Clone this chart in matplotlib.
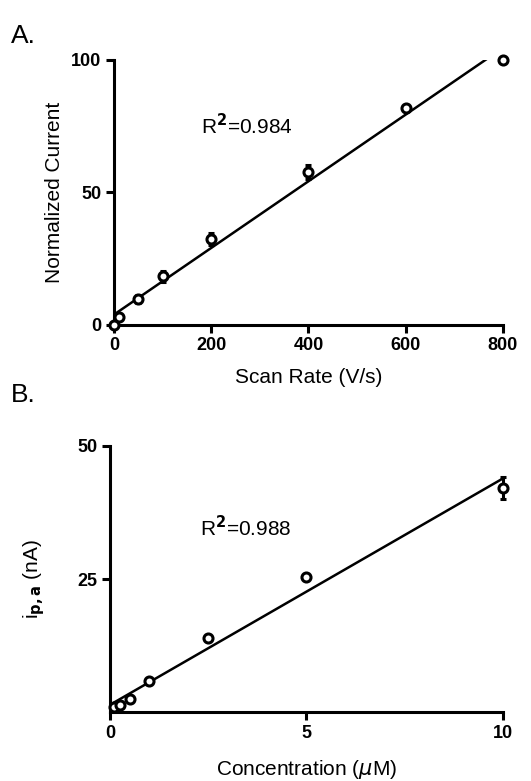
import numpy as np
import matplotlib.pyplot as plt

plt.rcParams['font.family'] = ['Liberation Sans', 'DejaVu Sans']

# Panel A: normalized current vs scan rate
scan_rate = [0, 10, 50, 100, 200, 400, 600, 800]
norm_current = [0, 3.0, 9.8, 18.3, 32.5, 57.6, 81.8, 100]
norm_err = [0.5, 0.8, 1.5, 2.0, 2.2, 2.6, 1.2, 0.5]

# Panel B: peak current vs concentration
conc = [0.1, 0.25, 0.5, 1, 2.5, 5, 10]
ipa = [1.0, 1.4, 2.4, 5.8, 13.9, 25.4, 42.1]
ipa_err = [0.3, 0.3, 0.4, 0.4, 0.5, 0.6, 2.0]

fig = plt.figure(figsize=(5.31, 7.81), dpi=100)


def style_axes(ax):
    for s in ['top', 'right']:
        ax.spines[s].set_visible(False)
    for s in ['left', 'bottom']:
        ax.spines[s].set_linewidth(2.2)
    ax.tick_params(width=2.2, length=6, labelsize=13, pad=3)
    for lbl in ax.get_xticklabels() + ax.get_yticklabels():
        lbl.set_fontweight('bold')


def draw(ax, x, y, yerr, xmax, ymax):
    m, c = np.polyfit(x, y, 1)
    xx = np.array([0, xmax])
    ax.plot(xx, m * xx + c, color='k', lw=1.8)
    ax.errorbar(x, y, yerr=yerr, fmt='o', ms=6.5, mfc='white', mec='k',
                mew=2.2, ecolor='k', elinewidth=2.2, capsize=2.5,
                capthick=2.2, clip_on=False, zorder=5)
    ax.set_xlim(0, xmax)
    ax.set_ylim(0, ymax)


axA = fig.add_axes([0.2147, 0.5839, 0.7323, 0.3393])
draw(axA, scan_rate, norm_current, norm_err, 800, 100)
axA.set_xticks([0, 200, 400, 600, 800])
axA.set_yticks([0, 50, 100])
axA.set_xlabel('Scan Rate (V/s)', fontsize=15, labelpad=10)
axA.set_ylabel('Normalized Current', fontsize=15, labelpad=5)
axA.text(0.225, 0.72, r'R$^\mathbf{2}$=0.984', transform=axA.transAxes, fontsize=15)
style_axes(axA)

axB = fig.add_axes([0.2072, 0.088, 0.7395, 0.341])
draw(axB, conc, ipa, ipa_err, 10, 50)
axB.set_xticks([0, 5, 10])
axB.set_yticks([25, 50])
axB.set_xlabel(r'Concentration ($\mu$M)', fontsize=15, labelpad=12)
axB.set_ylabel(r'i$_{\mathbf{p,a}}$ (nA)', fontsize=15, labelpad=22)
axB.text(0.23, 0.66, r'R$^\mathbf{2}$=0.988', transform=axB.transAxes, fontsize=15)
style_axes(axB)

fig.text(0.02, 0.945, 'A.', fontsize=19)
fig.text(0.02, 0.485, 'B.', fontsize=19)

fig.savefig('out.png', dpi=100)
